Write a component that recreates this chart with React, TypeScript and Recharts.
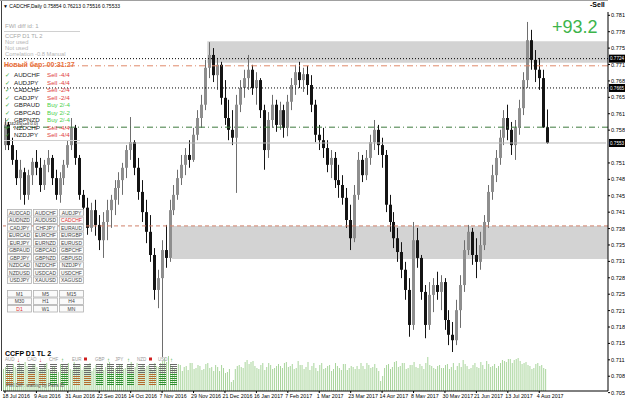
import React from 'react'
import { ComposedChart, Bar, XAxis, YAxis, ReferenceLine, ReferenceArea } from 'recharts'

const FONT = 'Liberation Sans, Arial, sans-serif'

// CADCHF daily candles (2 trading days per candle)
const opens = [
  0.7549, 0.7590, 0.7549, 0.7519, 0.7482, 0.7494, 0.7448, 0.7488, 0.7515, 0.7503,
  0.7468, 0.7509, 0.7523, 0.7482, 0.7448, 0.7482, 0.7509, 0.7549, 0.7584, 0.7523,
  0.7448, 0.7422, 0.7381, 0.7417, 0.7387, 0.7356, 0.7393, 0.7417, 0.7438, 0.7462,
  0.7478, 0.7503, 0.7539, 0.7555, 0.7503, 0.7454, 0.7413, 0.7373, 0.7326, 0.7255,
  0.7279, 0.7336, 0.7320, 0.7417, 0.7448, 0.7482, 0.7509, 0.7529, 0.7519, 0.7570,
  0.7604, 0.7631, 0.7706, 0.7732, 0.7691, 0.7712, 0.7645, 0.7604, 0.7580, 0.7564,
  0.7631, 0.7665, 0.7685, 0.7702, 0.7665, 0.7681, 0.7620, 0.7539, 0.7600, 0.7631,
  0.7590, 0.7620, 0.7584, 0.7637, 0.7671, 0.7697, 0.7681, 0.7693, 0.7671, 0.7631,
  0.7570, 0.7559, 0.7543, 0.7509, 0.7523, 0.7478, 0.7468, 0.7442, 0.7397, 0.7360,
  0.7448, 0.7519, 0.7488, 0.7523, 0.7555, 0.7580, 0.7549, 0.7529, 0.7428, 0.7393,
  0.7360, 0.7332, 0.7296, 0.7255, 0.7184, 0.7356, 0.7320, 0.7251, 0.7184, 0.7245,
  0.7265, 0.7251, 0.7271, 0.7194, 0.7164, 0.7153, 0.7214, 0.7265, 0.7336, 0.7373,
  0.7326, 0.7312, 0.7346, 0.7393, 0.7454, 0.7488, 0.7523, 0.7564, 0.7604, 0.7580,
  0.7549, 0.7584, 0.7624, 0.7681, 0.7762, 0.7722, 0.7702, 0.7685, 0.75854,
]
const highs = [
  0.7604, 0.7596, 0.7564, 0.7539, 0.7519, 0.7503, 0.7499, 0.7523, 0.7539, 0.7523,
  0.7519, 0.7539, 0.7529, 0.7499, 0.7494, 0.7519, 0.7559, 0.7604, 0.7590, 0.7529,
  0.7458, 0.7442, 0.7432, 0.7438, 0.7407, 0.7413, 0.7438, 0.7448, 0.7478, 0.7494,
  0.7513, 0.7549, 0.7606, 0.7559, 0.7523, 0.7478, 0.7438, 0.7407, 0.7340, 0.7296,
  0.7356, 0.7387, 0.7438, 0.7468, 0.7499, 0.7529, 0.7543, 0.7559, 0.7584, 0.7620,
  0.7651, 0.7722, 0.7758, 0.7746, 0.7726, 0.7718, 0.7681, 0.7641, 0.7620, 0.7651,
  0.7681, 0.7702, 0.7732, 0.7712, 0.7697, 0.7685, 0.7631, 0.7616, 0.7651, 0.7641,
  0.7637, 0.7631, 0.7651, 0.7685, 0.7712, 0.7718, 0.7706, 0.7710, 0.7691, 0.7641,
  0.7590, 0.7584, 0.7559, 0.7539, 0.7535, 0.7509, 0.7488, 0.7462, 0.7428, 0.7468,
  0.7535, 0.7529, 0.7539, 0.7570, 0.7600, 0.7590, 0.7564, 0.7539, 0.7448, 0.7413,
  0.7381, 0.7352, 0.7312, 0.7279, 0.7393, 0.7381, 0.7326, 0.7265, 0.7271, 0.7279,
  0.7292, 0.7285, 0.7279, 0.7214, 0.7190, 0.7235, 0.7285, 0.7356, 0.7387, 0.7381,
  0.7360, 0.7373, 0.7407, 0.7468, 0.7509, 0.7539, 0.7580, 0.7620, 0.7631, 0.7596,
  0.7600, 0.7641, 0.7697, 0.7799, 0.7783, 0.7742, 0.7726, 0.7702, 0.76213,
]
const lows = [
  0.7539, 0.7539, 0.7509, 0.7468, 0.7438, 0.7428, 0.7438, 0.7468, 0.7488, 0.7454,
  0.7458, 0.7494, 0.7468, 0.7438, 0.7432, 0.7468, 0.7503, 0.7539, 0.7509, 0.7438,
  0.7407, 0.7367, 0.7373, 0.7365, 0.7336, 0.7320, 0.7356, 0.7381, 0.7407, 0.7428,
  0.7448, 0.7482, 0.7519, 0.7488, 0.7438, 0.7393, 0.7350, 0.7312, 0.7235, 0.7218,
  0.7119, 0.7300, 0.7312, 0.7407, 0.7438, 0.7468, 0.7488, 0.7503, 0.7515, 0.7559,
  0.7584, 0.7620, 0.7685, 0.7677, 0.7661, 0.7631, 0.7590, 0.7559, 0.7549, 0.7452,
  0.7616, 0.7645, 0.7661, 0.7651, 0.7631, 0.7604, 0.7499, 0.7523, 0.7584, 0.7576,
  0.7580, 0.7564, 0.7567, 0.7620, 0.7651, 0.7665, 0.7657, 0.7651, 0.7616, 0.7555,
  0.7539, 0.7523, 0.7494, 0.7482, 0.7462, 0.7442, 0.7428, 0.7381, 0.7336, 0.7352,
  0.7438, 0.7474, 0.7478, 0.7509, 0.7539, 0.7529, 0.7503, 0.7413, 0.7373, 0.7340,
  0.7312, 0.7279, 0.7235, 0.7160, 0.7174, 0.7300, 0.7235, 0.7157, 0.7174, 0.7210,
  0.7235, 0.7214, 0.7174, 0.7143, 0.7129, 0.7143, 0.7178, 0.7251, 0.7326, 0.7306,
  0.7279, 0.7296, 0.7336, 0.7381, 0.7438, 0.7474, 0.7509, 0.7549, 0.7559, 0.7529,
  0.7519, 0.7570, 0.7610, 0.7665, 0.7702, 0.7677, 0.7661, 0.7584, 0.75516,
]
const closes = [
  0.7590, 0.7549, 0.7519, 0.7482, 0.7499, 0.7448, 0.7488, 0.7515, 0.7503, 0.7468,
  0.7509, 0.7523, 0.7482, 0.7448, 0.7482, 0.7509, 0.7549, 0.7584, 0.7523, 0.7448,
  0.7422, 0.7381, 0.7417, 0.7387, 0.7356, 0.7393, 0.7417, 0.7438, 0.7462, 0.7478,
  0.7503, 0.7539, 0.7555, 0.7503, 0.7454, 0.7413, 0.7373, 0.7326, 0.7255, 0.7279,
  0.7336, 0.7320, 0.7417, 0.7448, 0.7482, 0.7509, 0.7529, 0.7519, 0.7570, 0.7604,
  0.7631, 0.7706, 0.7732, 0.7691, 0.7712, 0.7645, 0.7604, 0.7580, 0.7564, 0.7631,
  0.7665, 0.7685, 0.7702, 0.7665, 0.7681, 0.7620, 0.7539, 0.7600, 0.7631, 0.7590,
  0.7620, 0.7584, 0.7637, 0.7671, 0.7697, 0.7681, 0.7693, 0.7671, 0.7631, 0.7570,
  0.7559, 0.7543, 0.7509, 0.7523, 0.7478, 0.7468, 0.7442, 0.7397, 0.7360, 0.7448,
  0.7519, 0.7488, 0.7523, 0.7555, 0.7580, 0.7549, 0.7529, 0.7428, 0.7393, 0.7360,
  0.7332, 0.7296, 0.7255, 0.7184, 0.7356, 0.7320, 0.7251, 0.7184, 0.7245, 0.7265,
  0.7251, 0.7271, 0.7194, 0.7164, 0.7153, 0.7214, 0.7265, 0.7336, 0.7373, 0.7326,
  0.7312, 0.7346, 0.7393, 0.7454, 0.7488, 0.7523, 0.7564, 0.7604, 0.7580, 0.7549,
  0.7584, 0.7624, 0.7681, 0.7762, 0.7722, 0.7702, 0.7685, 0.7585, 0.75533,
]

// tick volume (thousands), first and second day of each candle
const volA = [
  44, 52, 38, 48, 56, 42, 50, 46, 54, 40, 46, 56, 42, 50, 38, 52, 48, 44, 58, 50,
  42, 50, 56, 46, 40, 52, 48, 58, 44, 50, 54, 46, 50, 42, 56, 48, 44, 52, 40, 50,
  56, 66, 70, 50, 44, 52, 48, 42, 56, 46, 50, 44, 56, 48, 52, 40, 46, 38, 18, 44,
  52, 46, 62, 58, 50, 44, 56, 48, 52, 46, 54, 46, 58, 50, 44, 60, 52, 48, 42, 56,
  40, 56, 46, 52, 44, 50, 42, 54, 46, 48, 50, 56, 44, 52, 48, 46, 20, 46, 54, 48,
  60, 50, 56, 46, 52, 48, 54, 44, 68, 50, 44, 52, 46, 54, 48, 42, 56, 62, 50, 46,
  56, 46, 52, 60, 48, 54, 50, 62, 58, 64, 62, 66, 54, 58, 50, 46, 56, 52, 44,
]
const volB = [
  48, 40, 54, 44, 50, 58, 42, 52, 48, 44, 52, 44, 50, 40, 54, 46, 56, 42, 48, 54,
  48, 54, 40, 52, 46, 42, 56, 50, 46, 52, 44, 52, 58, 48, 42, 54, 50, 46, 56, 48,
  60, 58, 52, 46, 54, 40, 50, 56, 44, 52, 42, 54, 46, 40, 48, 52, 36, 44, 22, 50,
  48, 58, 54, 60, 46, 52, 42, 56, 44, 50, 50, 56, 48, 54, 46, 52, 44, 58, 50, 46,
  52, 44, 50, 40, 56, 46, 54, 42, 50, 44, 44, 50, 56, 46, 54, 40, 30, 52, 44, 58,
  48, 56, 44, 52, 58, 46, 50, 56, 52, 46, 50, 46, 52, 44, 56, 50, 48, 54, 44, 52,
  48, 58, 44, 54, 50, 46, 56, 60, 64, 56, 64, 60, 56, 52, 44, 54, 50, 46, 0,
]

const dateLabels = [
  '18 Jul 2016', '9 Aug 2016', '31 Aug 2016', '22 Sep 2016', '14 Oct 2016', '7 Nov 2016',
  '29 Nov 2016', '21 Dec 2016', '16 Jan 2017', '7 Feb 2017', '1 Mar 2017', '23 Mar 2017',
  '14 Apr 2017', '8 May 2017', '30 May 2017', '21 Jun 2017', '13 Jul 2017', '4 Aug 2017',
]
// 0.75461 sits under the bid tag, so it is not listed
const priceTicks = [
  0.78125, 0.77792, 0.77459, 0.77126, 0.76793, 0.7646, 0.76127, 0.75794, 0.75128,
  0.74795, 0.74462, 0.74129, 0.73796, 0.73463, 0.7313, 0.72797, 0.72464, 0.72131, 0.71798,
  0.71465, 0.71132, 0.70799, 0.70466,
]

// horizontal levels
const zoneHigh = [0.7716, 0.7760]
const zoneLow = [0.7318, 0.7385]
const levelDotTop = 0.77245
const levelOrange = 0.7710
const levelDotMid = 0.76650
const levelOpen = 0.75854
const bid = 0.75533
const levelOrangeLow = 0.7385

const pairButtons = [
  'AUDCAD', 'AUDCHF', 'AUDJPY', 'AUDNZD', 'AUDUSD', 'CADCHF', 'CADJPY', 'CHFJPY', 'EURAUD',
  'EURCAD', 'EURCHF', 'EURGBP', 'EURJPY', 'EURNZD', 'EURUSD', 'GBPAUD', 'GBPCAD', 'GBPCHF',
  'GBPJPY', 'GBPNZD', 'GBPUSD', 'NZDCAD', 'NZDCHF', 'NZDJPY', 'NZDUSD', 'USDCAD', 'USDCHF',
  'USDJPY', 'XAUUSD', 'XAGUSD',
]
const tfButtons = ['M1', 'M5', 'M15', 'M30', 'H1', 'H4', 'D1', 'W1', 'MN']
const signalPairs = ['AUDCHF', 'AUDJPY', 'CADCHF', 'CADJPY', 'GBPAUD', 'GBPCAD', 'GBPNZD', 'NZDCHF', 'NZDJPY']
const signalText = ['Sell -4/4', 'Sell -4/4', 'Sell -2/4', 'Sell -2/4', 'Buy  2/-4', 'Buy  2/-2', 'Buy  2/-4', 'Sell -4/4', 'Sell -4/4']
const currencies = ['AUD', 'CAD', 'CHF', 'EUR', 'GBP', 'JPY', 'NZD', 'USD']
const currencyTrend = ['down', 'down', 'up', 'flat', 'up', 'up', 'flat', 'up']
const currencyLevel = [6, 6, 6, 5, 6, 6, 6, 6]

const SLOTS = 154
const rows = Array.from({ length: SLOTS }, (_, i) =>
  i < opens.length
    ? { i, o: opens[i], h: highs[i], l: lows[i], c: closes[i], range: [lows[i], highs[i]], va: volA[i], vb: volB[i] || null }
    : { i }
)
const dateTicks = dateLabels.map((_, k) => k * 8)

function Candle(props: any) {
  const { x, y, width, height, payload } = props
  if (payload == null || payload.o == null) return null
  const top = Math.min(y, y + height)
  const h = Math.abs(height)
  const span = payload.h - payload.l || 1e-9
  const py = (v: number) => top + ((payload.h - v) / span) * h
  const cx = Math.round(x + width / 2)
  const yo = py(payload.o)
  const yc = py(payload.c)
  const bull = payload.c >= payload.o
  const color = bull ? '#8e8e8e' : '#141414'
  return (
    <g>
      <line x1={cx + 0.5} x2={cx + 0.5} y1={top} y2={top + h} stroke={bull ? '#6e6e6e' : '#141414'} strokeWidth={1} />
      <rect x={cx - 1} y={Math.min(yo, yc)} width={3} height={Math.max(1, Math.abs(yc - yo))} fill={color} />
    </g>
  )
}

function PriceTag(props: any) {
  const { viewBox, text } = props
  if (!viewBox) return null
  const { x, y, width } = viewBox
  const rx = x + width + 1
  return (
    <g>
      <rect x={rx} y={y - 4} width={16} height={8} fill="#000" />
      <text x={rx + 1} y={y + 1.8} fontSize={4.6} fill="#fff" fontFamily={FONT}>{text}</text>
    </g>
  )
}

function DateTick(props: any) {
  const { x, payload } = props
  return (
    <g>
      <line x1={x} x2={x} y1={391} y2={393} stroke="#000" />
      <text x={x - 2.5} y={397.5} fontSize={5.3} fill="#000" fontFamily={FONT}>
        {dateLabels[payload.value / 8]}
      </text>
    </g>
  )
}

function Overlay() {
  const t = { fontFamily: FONT }
  return (
    <svg width={625} height={398} style={{ position: 'absolute', left: 0, top: 0, pointerEvents: 'none' }}>
      <line x1={1.5} x2={1.5} y1={0} y2={391} stroke="#404040" />
      <line x1={0} x2={608} y1={0.5} y2={0.5} stroke="#a0a0a0" />
      <text x={3} y={8} fontSize={5} fill="#000" {...t}>▼ CADCHF,Daily  0.75854 0.76213 0.75516 0.75533</text>

      <text x={5} y={28} fontSize={6} fill="#a8a8a8" {...t}>FWI diff   id: 1</text>
      <line x1={4} x2={80} y1={31.5} y2={31.5} stroke="#d0d0d0" />
      <text x={5} y={38} fontSize={5.8} fill="#a8a8a8" {...t}>CCFP D1   TL 2</text>
      <text x={5} y={44} fontSize={5.8} fill="#b4b4b4" {...t}>Nor used</text>
      <text x={5} y={50} fontSize={5.8} fill="#b4b4b4" {...t}>Not used</text>
      <text x={5} y={56} fontSize={5.8} fill="#b4b4b4" {...t}>Correlation -0.8 Manual</text>
      <text x={4} y={66.5} fontSize={7} fontWeight="bold" fill="#e8703a" {...t}>Новый бар: 00:31:27</text>

      {signalPairs.map((p, k) => {
        const yy = 77 + k * 7.5
        const buy = signalText[k].startsWith('Buy')
        return (
          <g key={p}>
            <text x={5} y={yy} fontSize={6} fill="#3da83d" {...t}>✓</text>
            <text x={14} y={yy} fontSize={6.2} fill="#222" {...t}>{p}</text>
            <text x={47} y={yy} fontSize={6.2} fill={buy ? '#4cd04c' : '#e03c3c'} {...t}>{signalText[k]}</text>
          </g>
        )
      })}
      <text x={4} y={124.5} fontSize={4.4} fill="#000" {...t}>#424245(sell 0.0)</text>
      <line x1={4} x2={80} y1={140.5} y2={140.5} stroke="#d0d0d0" />

      {pairButtons.map((p, k) => {
        const col = k % 3
        const row = Math.floor(k / 3)
        const bx = 7 + col * 26
        const by = 209.5 + row * 7.5
        return (
          <g key={p}>
            <rect x={bx + 0.5} y={by} width={24} height={6.5} fill="#fafafa" stroke="#b0b0b0" strokeWidth={0.8} />
            <text x={bx + 12.5} y={by + 5.2} fontSize={5} textAnchor="middle" fill={p === 'CADCHF' ? '#e03030' : '#444'} {...t}>{p}</text>
          </g>
        )
      })}
      {tfButtons.map((p, k) => {
        const col = k % 3
        const row = Math.floor(k / 3)
        const bx = 7 + col * 26
        const by = 290.5 + row * 7.5
        return (
          <g key={p}>
            <rect x={bx + 0.5} y={by} width={24} height={6.5} fill="#fafafa" stroke="#b0b0b0" strokeWidth={0.8} />
            <text x={bx + 12.5} y={by + 5.2} fontSize={5} textAnchor="middle" fill={p === 'D1' ? '#e03030' : '#444'} {...t}>{p}</text>
          </g>
        )
      })}

      <text x={5} y={356} fontSize={7} fontWeight="bold" fill="#000" {...t}>CCFP D1   TL 2</text>
      {currencies.map((c, k) => {
        const cx = [5, 27, 49, 72, 95, 115, 137, 158][k]
        const trend = currencyTrend[k]
        const weak = trend !== 'up'
        const fillC = weak ? '#b36b2e' : '#2f8f2f'
        const lines = []
        for (let r = 0; r < 11; r++) {
          const yy = 364.5 + r * 2
          const colored = r >= 11 - currencyLevel[k]
          lines.push(<line key={'a' + r} x1={cx + 1} x2={cx + 8} y1={yy} y2={yy} stroke={colored ? fillC : '#6a6a6a'} strokeWidth={1} />)
          lines.push(<line key={'b' + r} x1={cx + 12} x2={cx + 19} y1={yy} y2={yy} stroke={colored ? fillC : '#6a6a6a'} strokeWidth={1} />)
        }
        return (
          <g key={c}>
            <text x={cx} y={361} fontSize={4.5} fill="#9a9a9a" {...t}>{c}</text>
            {trend === 'up' && <text x={cx + 12} y={361.5} fontSize={6} fill="#2eaa2e" {...t}>↑</text>}
            {trend === 'down' && <text x={cx + 12} y={361.5} fontSize={6} fill="#d02020" {...t}>↓</text>}
            {trend === 'flat' && <rect x={cx + 12} y={357.5} width={3} height={3} fill="#d02020" />}
            {lines}
          </g>
        )
      })}
      <text x={6} y={387} fontSize={4.6} fill="#555" {...t}>FWI Diff : waiting by Pairs ID</text>

      <text x={552} y={33} fontSize={18} fill="#3cb44b" {...t}>+93.2</text>
      <text x={590} y={7} fontSize={7} fontWeight="bold" fill="#000" {...t}>-Sell</text>
    </svg>
  )
}

export default function App() {
  return (
    <div style={{ position: 'absolute', left: 0, top: 0, width: 625, height: 398, background: '#fff', overflow: 'hidden' }}>
      <ComposedChart width={625} height={398} data={rows} margin={{ top: 12, right: 0, bottom: 0, left: 3 }} barCategoryGap={0} barGap={1}>
        <XAxis
          xAxisId="main"
          dataKey="i"
          type="category"
          ticks={dateTicks}
          interval={0}
          height={7}
          tick={<DateTick />}
          tickLine={false}
          axisLine={{ stroke: '#000' }}
        />
        <XAxis xAxisId="vol" dataKey="i" type="category" hide />
        <YAxis
          yAxisId="price"
          orientation="right"
          width={17}
          type="number"
          domain={[0.70499, 0.78192]}
          allowDataOverflow
          ticks={priceTicks}
          interval={0}
          tickSize={2}
          tickMargin={1}
          tickFormatter={(v: number) => v.toFixed(3)}
          tick={{ fontSize: 5.6, fill: '#000', fontFamily: FONT }}
          axisLine={{ stroke: '#000' }}
          tickLine={{ stroke: '#000' }}
        />
        <YAxis yAxisId="vol" type="number" domain={[0, 758]} hide />

        <ReferenceArea xAxisId="main" yAxisId="price" x1={52} y1={zoneHigh[0]} y2={zoneHigh[1]} fill="#d3d3d3" fillOpacity={1} stroke="none" />
        <ReferenceArea xAxisId="main" yAxisId="price" x1={43} y1={zoneLow[0]} y2={zoneLow[1]} fill="#d3d3d3" fillOpacity={1} stroke="none" />

        <Bar xAxisId="vol" yAxisId="vol" dataKey="va" barSize={1} fill="#a9d59c" isAnimationActive={false} />
        <Bar xAxisId="vol" yAxisId="vol" dataKey="vb" barSize={1} fill="#a9d59c" isAnimationActive={false} />

        <ReferenceLine xAxisId="main" yAxisId="price" y={levelDotTop} stroke="#000" strokeDasharray="1 2" label={<PriceTag text={levelDotTop.toFixed(4)} />} />
        <ReferenceLine xAxisId="main" yAxisId="price" y={levelOrange} stroke="#e0896a" strokeDasharray="6 3 1 3" />
        <ReferenceLine xAxisId="main" yAxisId="price" y={levelDotMid} stroke="#000" strokeDasharray="1 2" label={<PriceTag text={levelDotMid.toFixed(4)} />} />
        <ReferenceLine xAxisId="main" yAxisId="price" y={levelOpen} stroke="#3d7a3d" strokeDasharray="6 3 1 3" />
        <ReferenceLine xAxisId="main" yAxisId="price" y={levelOrangeLow} stroke="#d0806a" strokeDasharray="4 3" />
        <ReferenceLine
          xAxisId="main"
          yAxisId="price"
          segment={[{ x: 18, y: bid }, { x: 153, y: bid }]}
          stroke="#b8b8b8"
        />
        <ReferenceLine xAxisId="main" yAxisId="price" y={bid} stroke="none" label={<PriceTag text={bid.toFixed(4)} />} />

        <Bar
          xAxisId="main"
          yAxisId="price"
          dataKey="range"
          barSize={3}
          isAnimationActive={false}
          shape={(p: any) => <Candle {...p} />}
        />
      </ComposedChart>
      <Overlay />
    </div>
  )
}
